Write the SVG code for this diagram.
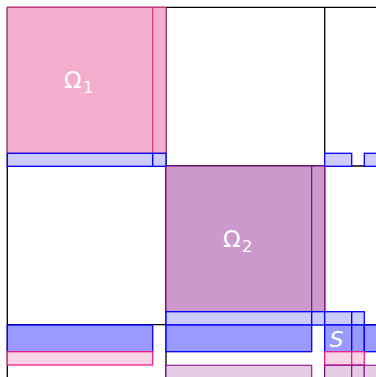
<svg xmlns="http://www.w3.org/2000/svg" width="376" height="377" viewBox="0 0 376 377">
<style>
.grid{stroke:#000;stroke-width:1.3;fill:none}
.om1{fill:#f3aecd;stroke:#e0207f;stroke-opacity:0.8;stroke-width:1.2}
.lb{fill:#ccccff;stroke:#0000ff;stroke-width:1.3}
.mb{fill:#9999ff;stroke:#0000ff;stroke-width:1.3}
.om2{fill:#cc99cc;stroke:#800080;stroke-opacity:0.85;stroke-width:1.2}
.lp{fill:#fad3e5;stroke:#f0208c;stroke-width:1.3}
.lv{fill:#e5cce5;stroke:#800080;stroke-opacity:0.85;stroke-width:1.2}
.lbl{fill:#fff;font-family:"DejaVu Sans",sans-serif}
</style>
<rect width="376" height="377" fill="#fff"/>
<g id="grid">
<path class="grid" d="M7.3 7.3H390M7.3 166H390M7.3 324.7H390M7.3 7.3V390M166 7.3V390M324.7 7.3V390"/>
</g>
<g id="omega1">
<rect class="om1" x="7.3" y="7.3" width="145.4" height="146"/>
<rect class="om1" x="152.7" y="7.3" width="13.3" height="146"/>
<text class="lbl" x="64" y="87.5" font-size="23">Ω<tspan x="83" y="92.5" font-size="16.5">1</tspan></text>
</g>
<g id="strip1">
<rect class="lb" x="7.3" y="153.3" width="145.4" height="13"/>
<rect class="lb" x="152.7" y="153.3" width="13.3" height="13"/>
<rect class="lb" x="324.7" y="153.3" width="27" height="13"/>
<rect class="lb" x="364.3" y="153.3" width="30" height="13"/>
</g>
<g id="omega2">
<rect class="om2" x="166" y="166" width="145.7" height="145.7"/>
<rect class="om2" x="311.7" y="166" width="13" height="145.7"/>
<text class="lbl" x="223" y="246.5" font-size="23">Ω<tspan x="242" y="251.5" font-size="16.5">2</tspan></text>
</g>
<g id="strip2">
<rect class="lb" x="166" y="311.7" width="145.7" height="13.3"/>
<rect class="lb" x="311.7" y="311.7" width="13" height="13.3"/>
<rect class="lb" x="324.7" y="311.7" width="27" height="13.3"/>
<rect class="lb" x="351.7" y="311.7" width="12.6" height="13.3"/>
</g>
<g id="row-blue">
<rect class="mb" x="7.3" y="325" width="145.4" height="26.7"/>
<rect class="mb" x="166" y="325" width="145.7" height="26.7"/>
<rect class="mb" x="324.7" y="325" width="27" height="26.7"/>
<rect class="mb" x="351.7" y="325" width="12.6" height="26.7"/>
<rect class="mb" x="364.3" y="325" width="30" height="26.7"/>
</g>
<g id="row-pink">
<rect class="lp" x="7.3" y="351.7" width="145.4" height="13.3"/>
<rect class="lp" x="324.7" y="351.7" width="27" height="13.3"/>
<rect class="lp" x="351.7" y="351.7" width="12.6" height="13.3"/>
</g>
<g id="row-purple">
<rect class="lv" x="166" y="365.3" width="145.7" height="30"/>
<rect class="lv" x="324.7" y="365.3" width="27" height="30"/>
<rect class="lv" x="351.7" y="365.3" width="12.6" height="30"/>
<rect class="lv" x="364.3" y="365.3" width="30" height="30"/>
</g>
<g id="S">
<text class="lbl" x="329.5" y="346.5" font-size="22" font-style="italic">S</text>
</g>
</svg>
